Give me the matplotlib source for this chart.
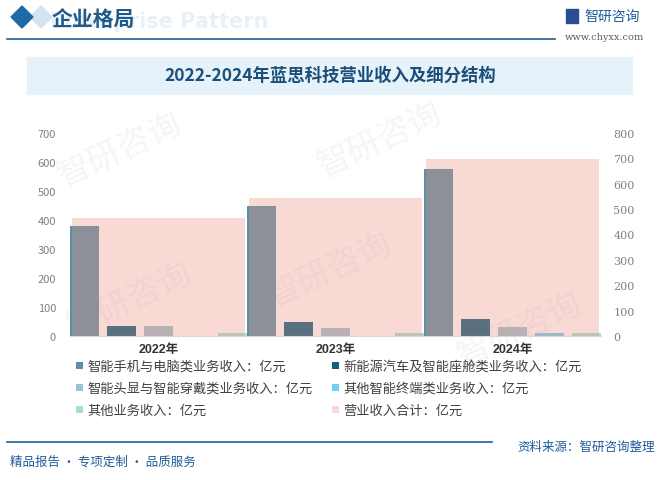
import matplotlib.pyplot as plt
from matplotlib.patches import Rectangle, Polygon
import numpy as np

plt.rcParams['font.family'] = ['Noto Sans CJK SC', 'DejaVu Sans']

years = ['2022年', '2023年', '2024年']
phone_pc = [380, 448, 576]
nev_cabin = [34, 48, 59]
hmd_wear = [34, 28, 31]
other_term = [0, 0, 10]
other_biz = [10, 10, 10]
total = [465, 544, 698]

names = ['智能手机与电脑类业务收入：亿元', '新能源汽车及智能座舱类业务收入：亿元',
         '智能头显与智能穿戴类业务收入：亿元', '其他智能终端类业务收入：亿元',
         '其他业务收入：亿元', '营业收入合计：亿元']
colors = ['#5a91a6', '#0f5f80', '#9cc3d3', '#6ccff6', '#a6ddd5']
pink = '#ee907e'

W, H = 661, 481
fig = plt.figure(figsize=(W / 100, H / 100), dpi=100)

def fx(px):
    return px / W

def fy(py):
    return 1 - py / H

# header
fig.text(fx(50), fy(22), 'Enterprise Pattern', fontsize=15, color='#e8f0f8',
         fontweight='bold', family='DejaVu Sans', va='center', zorder=-1)
fig.patches.append(Polygon([[fx(30), fy(18)], [fx(41), fy(7)], [fx(52), fy(18)], [fx(41), fy(29)]],
                           closed=True, transform=fig.transFigure, color='#d3e3f0', zorder=1))
fig.patches.append(Polygon([[fx(11), fy(18)], [fx(22), fy(7)], [fx(33), fy(18)], [fx(22), fy(29)]],
                           closed=True, transform=fig.transFigure, color='#1f6aa5', zorder=2))
fig.text(fx(52), fy(19), '企业格局', fontsize=15, color='#1d5a8a', va='center', fontweight='bold')
fig.add_artist(plt.Line2D([fx(7), fx(555)], [fy(40), fy(40)], color='#1f5c99', lw=1.2))
fig.patches.append(Rectangle((fx(566), fy(24)), fx(12), 14 / H, transform=fig.transFigure,
                             color='#2a4d8f'))
fig.text(fx(584), fy(17), '智研咨询', fontsize=10, color='#1f5c99', va='center')
fig.text(fx(565), fy(38), 'www.chyxx.com', fontsize=7, color='#555f6b', va='center',
         family='DejaVu Serif')

# title box
fig.patches.append(Rectangle((fx(27), fy(95)), fx(632) - fx(27), 37 / H,
                             transform=fig.transFigure, color='#e6f2fa', zorder=-1))
fig.text(fx(330), fy(76), '2022-2024年蓝思科技营业收入及细分结构', fontsize=12.5,
         color='#1b4f7a', ha='center', va='center', fontweight='bold')

# faint watermarks, kept behind everything
for wx, wy in [(120, 150), (380, 140), (330, 270), (130, 300), (520, 330)]:
    fig.text(fx(wx), fy(wy), '智研咨询', fontsize=24, color='#f3f5f8', rotation=25,
             ha='center', va='center', zorder=-2)

# chart
ax = fig.add_axes([fx(70), fy(337), fx(601) - fx(70), (337 - 134) / H])
ax.patch.set_alpha(0)
x = np.arange(len(years))
bw = 29 / 177
series = [phone_pc, nev_cabin, hmd_wear, other_term, other_biz]
handles = []
for i, (vals, c) in enumerate(zip(series, colors)):
    offs = -0.5 + (14.5 + 37 * i) / 177
    h = ax.bar(x + offs, vals, width=bw, color=c, zorder=2)
    handles.append(h)
ax.set_xlim(-0.5, 2.5)
ax.set_ylim(0, 700)
ax.set_yticks(range(0, 701, 100))
ax.set_xticks(x)
ax.set_xticklabels(years, fontweight='bold', fontsize=9, color='#333333',
                   family=['Liberation Sans', 'Noto Sans CJK SC'])
ax.tick_params(axis='x', length=0, pad=5)
ax.tick_params(axis='y', length=0, pad=10, labelsize=8, labelcolor='#808080')
for s in ['top', 'right', 'left']:
    ax.spines[s].set_visible(False)
ax.spines['bottom'].set_color('#d9d9d9')

ax2 = ax.twinx()
h6 = ax2.bar(x, total, width=173 / 177, color=pink, alpha=0.34, zorder=3)
handles.append(h6)
ax2.set_ylim(0, 800)
ax2.set_yticks(range(0, 801, 100))
ax2.tick_params(axis='y', length=0, pad=9, labelsize=8, labelcolor='#808080')
for lab in ax2.get_yticklabels():
    lab.set_family('DejaVu Serif')
for s in ['top', 'right', 'left', 'bottom']:
    ax2.spines[s].set_visible(False)

# legend filled row by row (matplotlib fills columns first)
order = [0, 2, 4, 1, 3, 5]
fig.legend([handles[i] for i in order], [names[i] for i in order], loc='upper left',
           bbox_to_anchor=(fx(76), fy(361)), ncol=2,
           frameon=False, fontsize=9.5, handlelength=0.5, handleheight=0.5,
           handletextpad=0.35, columnspacing=1.5, labelspacing=0.68,
           labelcolor='#404040', borderaxespad=0, borderpad=0)

# footer
fig.add_artist(plt.Line2D([fx(7), fx(492)], [fy(443), fy(443)], color='#1f5c99', lw=1.2))
fig.text(fx(655), fy(447), '资料来源：智研咨询整理', fontsize=9, color='#1f5c99',
         ha='right', va='center')
fig.text(fx(10), fy(462), '精品报告 · 专项定制 · 品质服务', fontsize=9, color='#1f5c99',
         va='center')

fig.savefig('out.png', dpi=100)
